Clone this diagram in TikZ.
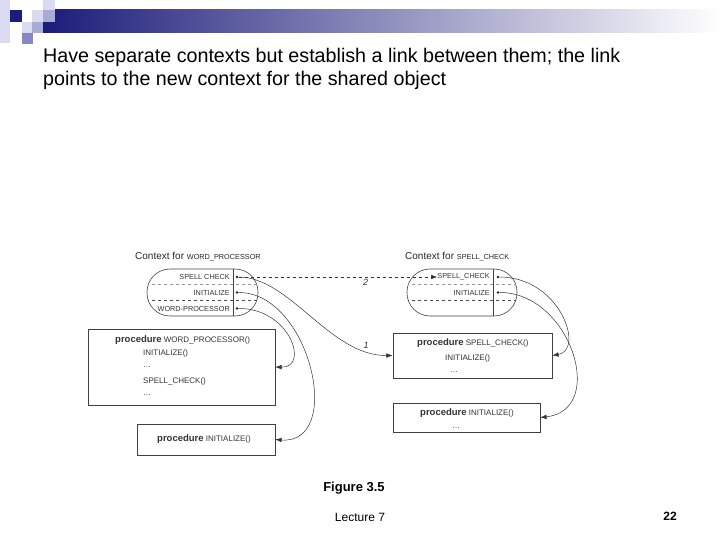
\documentclass[tikz,border=0pt]{standalone}
\usepackage{fontspec}
\setmainfont{Liberation Sans}
\usepackage{tikz}
\usetikzlibrary{positioning,arrows.meta,calc}

\definecolor{barnavy}{RGB}{28,28,122}
\definecolor{sqlight}{RGB}{218,218,240}
\definecolor{sqmid}{RGB}{170,170,215}
\definecolor{sqdark}{RGB}{135,135,198}
\newcommand{\kwproc}{{\fontsize{9.5}{10}\selectfont\bfseries procedure}}

\begin{document}
\begin{tikzpicture}[
    x=1pt, y=-1pt,
    >={Latex[length=2.2mm, width=1.6mm]},
    ctx/.style={draw=black!75, rounded corners=23pt, minimum width=111pt,
                minimum height=47pt, line width=0.6pt, inner sep=0pt},
    procbox/.style={draw=black!75, line width=0.6pt, inner sep=0pt},
    row/.style={font=\fontsize{7.3}{8}\selectfont, text=black!80, anchor=east, inner sep=0pt},
    code/.style={font=\fontsize{8}{9}\selectfont, text=black!80, anchor=west, inner sep=0pt},
    ctxlabel/.style={font=\fontsize{10}{12}\selectfont, text=black!85, anchor=west, inner sep=0pt},
    num/.style={font=\fontsize{9}{10}\selectfont\itshape, text=black!80, inner sep=1pt},
    dot/.style={circle, fill=black!85, inner sep=0pt, minimum size=2.6pt},
    link/.style={->, black!80, line width=0.5pt},
  ]
    \useasboundingbox (0,0) rectangle (720,540);

    % bandeau du haut
    \shade[left color=barnavy, right color=white] (43,10) rectangle (720,33);
    \fill[sqlight] (0,0) rectangle (10,43);
    \fill[barnavy] (10,10) rectangle (22,22);
    \fill[white] (22,10) rectangle (32,22);
    \fill[sqlight] (32,10) rectangle (43,22);
    \fill[sqlight] (43,0) rectangle (55,10);
    \fill[sqmid] (43,10) rectangle (55,22);
    \fill[sqlight] (22,22) rectangle (32,33);
    \fill[sqmid] (32,22) rectangle (43,33);
    \fill[sqdark] (22,33) rectangle (33,44);

    \node[anchor=west, align=left, inner sep=0pt, font=\fontsize{19.7}{23}\selectfont] (title) at (43,68.5)
      {Have separate contexts but establish a link between them; the link\\points to the new context for the shared object};

    % contexte de gauche
    \node[ctxlabel] (cll) at (135,257) {Context for {\fontsize{7.3}{8}\selectfont WORD\_PROCESSOR}};
    \node[ctx] (cl) at (202.5,292.5) {};
    \begin{scope}
      \clip[rounded corners=23pt] (cl.north west) rectangle (cl.south east);
      \draw[dashed, black!40, line width=0.5pt] (140,284.5) -- (265,284.5);
      \draw[dashed, black!70, line width=0.5pt] (140,300.5) -- (265,300.5);
    \end{scope}
    \draw[black!75, line width=0.6pt] (233,269) -- (233,316);
    \node[row] (lsc) at (230,277) {SPELL CHECK};
    \node[row] (lin) at (230,292.5) {INITIALIZE};
    \node[row] (lwp) at (230,308.5) {WORD-PROCESSOR};
    \node[dot] (lscd) at (237,277) {};
    \node[dot] (lind) at (237,292.5) {};
    \node[dot] (lwpd) at (237,308.5) {};

    % contexte de droite
    \node[ctxlabel] (crl) at (405,257) {Context for {\fontsize{7.3}{8}\selectfont SPELL\_CHECK}};
    \node[ctx, minimum width=110pt] (cr) at (462,292.5) {};
    \begin{scope}
      \clip[rounded corners=23pt] (cr.north west) rectangle (cr.south east);
      \draw[dashed, black!40, line width=0.5pt] (400,284.5) -- (525,284.5);
      \draw[dashed, black!70, line width=0.5pt] (400,300.5) -- (525,300.5);
    \end{scope}
    \draw[black!75, line width=0.6pt] (493,269) -- (493,316);
    \node[row] (rsc) at (490,277) {SPELL\_CHECK};
    \node[row] (rin) at (490,292.5) {INITIALIZE};
    \node[dot] (rscd) at (498,277) {};
    \node[dot] (rind) at (498,292.5) {};

    % procédures
    \node[procbox, minimum width=187pt, minimum height=76pt] (wp) at (181.5,367) {};
    \node[code] (wp1) at (115,340) {\kwproc{} WORD\_PROCESSOR()};
    \node[code] (wp2) at (143,353.5) {INITIALIZE()};
    \node[code] (wp3) at (143,367) {\ldots};
    \node[code] (wp4) at (143,381) {SPELL\_CHECK()};
    \node[code] (wp5) at (143,395) {\ldots};

    \node[procbox, minimum width=138pt, minimum height=31pt] (li) at (206,439.5) {};
    \node[code] (li1) at (157,439) {\kwproc{} INITIALIZE()};

    \node[procbox, minimum width=159pt, minimum height=45pt] (rs) at (472.5,355.5) {};
    \node[code] (rs1) at (417,343) {\kwproc{} SPELL\_CHECK()};
    \node[code] (rs2) at (445,358) {INITIALIZE()};
    \node[code] (rs3) at (450,372) {\ldots};

    \node[procbox, minimum width=147pt, minimum height=29pt] (ri) at (466.5,417.5) {};
    \node[code] (ri1) at (420,413) {\kwproc{} INITIALIZE()};
    \node[code] (ri2) at (452,428) {\ldots};

    % liens
    \draw[link, dashed] (lscd) -- (rsc.west) node[num, pos=0.64, below=1pt] {2};
    \draw[link] (lscd) .. controls (290,277) and (330,356) .. (rs.west);
    \node[num] (one) at (366,345) {1};
    \draw[link] (lwpd) .. controls (290,308) and (310,368) .. (wp.east);
    \draw[link] (lind) .. controls (310,292) and (345,445) .. (li.east);
    \draw[link] (rscd) .. controls (560,277) and (585,350) .. (rs.east);
    \draw[link] (rind) .. controls (570,292) and (608,410) .. (ri.east);

    % pied de page
    \node[font=\fontsize{13}{15}\selectfont\bfseries] (fig) at (354,488) {Figure 3.5};
    \node[font=\fontsize{12}{14}\selectfont] (lec) at (360,517) {Lecture 7};
    \node[font=\fontsize{12}{14}\selectfont\bfseries] (pg) at (670,516) {22};
  \end{tikzpicture}
\end{document}
